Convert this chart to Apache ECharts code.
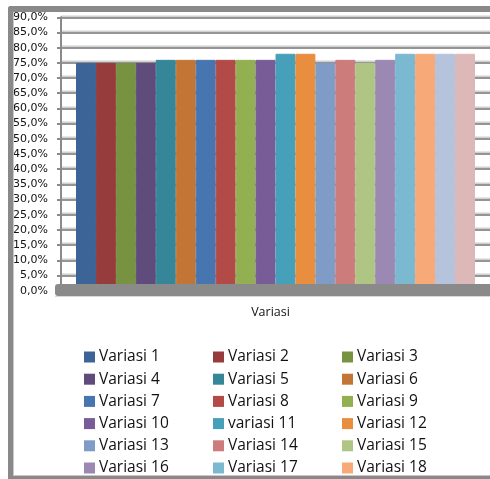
<!DOCTYPE html>
<html>
<head>
<meta charset="utf-8">
<script src="https://cdn.jsdelivr.net/npm/echarts@6/dist/echarts.min.js"></script>
<style>
html,body{margin:0;padding:0;background:#fff;}
#c{width:490px;height:479px;}
</style>
</head>
<body>
<div id="c"></div>
<script>
var categories = ['Variasi'];
var seriesNames = ['Variasi 1','Variasi 2','Variasi 3','Variasi 4','Variasi 5','Variasi 6','Variasi 7','Variasi 8','Variasi 9','Variasi 10','variasi 11','Variasi 12','Variasi 13','Variasi 14','Variasi 15','Variasi 16','Variasi 17','Variasi 18','Variasi 19','Variasi 20'];
var seriesValues = [75,75,75,75,76,76,76,76,76,76,78,78,75,76,75,76,78,78,78,78];
var seriesColors = ['#3C6496','#963C3C','#779240','#604C7C','#36869A','#C37535','#4775B0','#B24A48','#92B052','#785C98','#46A0B9','#E98D3F','#7F9CC7','#CB7C7B','#AFC584','#9C89B3','#7BB9D0','#F7A977','#B5C3DC','#DDB8B8'];
var yTicks = {min:0, max:90, interval:5};

var chart = echarts.init(document.getElementById('c'), null, {renderer:'canvas'});

var series = seriesNames.map(function(n,i){
  return {
    name:n, type:'bar', data:[seriesValues[i]],
    itemStyle:{color:seriesColors[i], borderColor:seriesColors[i], borderWidth:1},
    barGap:'0%', barCategoryGap:'7%'
  };
});

function legendCol(names, left){
  return {
    orient:'vertical', left:left, top:349, height:300, padding:0,
    itemWidth:11, itemHeight:11, itemGap:6.2,
    icon:'rect', selectedMode:false,
    itemStyle:{borderWidth:0},
    textStyle:{fontFamily:'Open Sans', fontSize:15.5, color:'#111', lineHeight:15, padding:[0,0,0,-1]},
    data:names
  };
}
var col1 = [0,3,6,9,12,15].map(function(i){return seriesNames[i];});
var col2 = [1,4,7,10,13,16].map(function(i){return seriesNames[i];});
var col3 = [2,5,8,11,14,17].map(function(i){return seriesNames[i];});

var option = {
  backgroundColor:'#fff',
  animation:false,
  grid:{left:61, right:-3, top:17.3, bottom:188.3},
  xAxis:{
    type:'category', data:categories,
    axisLine:{show:false}, axisTick:{show:false},
    axisLabel:{fontFamily:'Open Sans', fontSize:12.5, color:'#111', margin:15, padding:[0,10,0,0]}
  },
  yAxis:{
    type:'value', min:yTicks.min, max:yTicks.max, interval:yTicks.interval,
    axisLine:{show:true, lineStyle:{color:'#8a8a8a', width:2}},
    axisTick:{show:true, length:4, lineStyle:{color:'#8a8a8a', width:2}},
    axisLabel:{margin:13, fontFamily:'DejaVu Sans', fontSize:11, color:'#111',
      formatter:function(v){return v.toFixed(1).replace('.',',')+'%';}},
    splitLine:{show:true, lineStyle:{color:'#959595', width:2, shadowColor:'#d0d0d0', shadowOffsetY:-1.5, shadowBlur:0}}
  },
  legend:[legendCol(col1,84), legendCol(col2,213), legendCol(col3,342)],
  graphic:[
    {type:'rect', z:100, shape:{x:55, y:284, width:440, height:12, r:[3,0,0,3]}, style:{fill:'#8a8a8a'}},
    {type:'rect', z:100, shape:{x:55, y:296, width:440, height:1}, style:{fill:'#d8d8d8'}},
    {type:'rect', z:100, shape:{x:8, y:6, width:5, height:473, r:[3,0,0,0]}, style:{fill:'#898989'}},
    {type:'rect', z:100, shape:{x:8, y:6, width:482, height:6, r:[3,0,0,0]}, style:{fill:'#898989'}},
    {type:'rect', z:100, shape:{x:8, y:476, width:482, height:3}, style:{fill:'#898989'}},
    {type:'rect', z:100, shape:{x:13, y:12, width:1, height:464}, style:{fill:'#c8c8c8'}},
    {type:'rect', z:100, shape:{x:13, y:475, width:477, height:1}, style:{fill:'#c8c8c8'}}
  ],
  series:series
};
chart.setOption(option);
</script>
</body>
</html>
